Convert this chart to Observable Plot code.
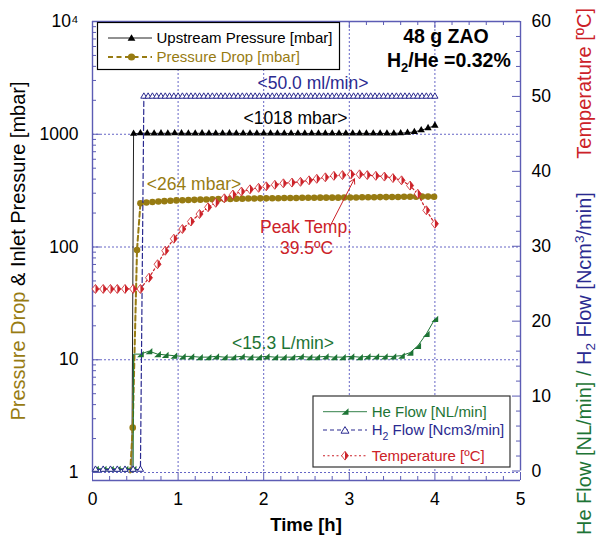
<!DOCTYPE html>
<html><head><meta charset="utf-8">
<script src="https://cdn.jsdelivr.net/npm/d3@7"></script>
<script src="https://cdn.jsdelivr.net/npm/@observablehq/plot@0.6"></script>
<style>
html,body{margin:0;padding:0;background:#fff;}
#chart{position:relative;width:601px;height:537px;overflow:hidden;font-family:"Liberation Sans",Arial,sans-serif;}
#chart svg{position:absolute;left:0;top:0;}
</style></head>
<body><div id="chart"></div>
<script>
// ---------------- data ----------------
// Upstream pressure [mbar] (left, log axis)
const upTime = [0.48,0.56,0.64,0.72,0.80,0.88,0.96,1.04,1.12,1.20,1.28,1.36,1.44,1.52,1.60,1.68,1.76,1.84,1.92,2.00,2.08,2.16,2.24,2.32,2.40,2.48,2.56,2.64,2.72,2.80,2.88,2.96,3.04,3.12,3.20,3.28,3.36,3.44,3.52,3.60,3.68,3.76,3.84,3.92,4.00];
const upValue = [1010,1022,1020,1018,1020,1019,1021,1020,1018,1019,
                 1020,1018,1017,1019,1020,1018,1018,1019,1017,1018,
                 1019,1018,1017,1016,1018,1017,1016,1018,1017,1016,
                 1017,1018,1016,1017,1018,1016,1017,1018,1019,1022,
                 1032,1050,1085,1135,1195];
const upStart = [0.46, 1];

// Pressure drop [mbar] (left, log axis)
const pdTime = [0.47,0.52,0.56,0.63,0.70,0.77,0.84,0.91,0.98,1.05,1.12,1.19,1.26,1.33,1.40,1.47,1.54,1.61,1.68,1.75,1.82,1.89,1.96,2.03,2.10,2.17,2.24,2.31,2.38,2.45,2.52,2.59,2.66,2.73,2.80,2.87,2.94,3.01,3.08,3.15,3.22,3.29,3.36,3.43,3.50,3.57,3.64,3.71,3.78,3.85,3.92,3.99];
const pdValue = [2.5,94,
                 244,248,251,253,255,257,259,260,261,262,
                 263,264,265,266,266,267,268,268,269,269,
                 270,270,271,271,272,272,272,273,273,273,
                 274,274,274,274,275,275,275,276,276,276,
                 277,277,278,278,279,279,279,280,280,279];
const pdStart = [0.44, 1];

// He flow [NL/min] and temperature [ºC] (right axis), same sampling
const flowTime = [0.035,0.125,0.21,0.29,0.38,0.475,
                  0.56,0.66,0.76,0.85,0.95,1.05,
                  1.15,1.25,1.35,1.44,1.54,1.64,1.74,1.84,1.94,2.03,2.13,2.23,2.33,2.43,2.53,2.62,2.72,2.82,2.92,3.02,3.12,3.21,3.31,3.41,
                  3.51,3.61,3.71,3.80,3.90,4.00];
const heValue = [0.3,0.3,0.3,0.3,0.3,0.3,
                 15.6,16.0,15.6,15.5,15.4,15.3,
                 15.3,15.2,15.2,15.3,15.2,15.2,15.3,15.2,15.2,15.3,15.2,15.2,15.2,15.3,15.2,15.2,15.3,15.2,15.2,15.3,15.2,15.3,15.3,15.3,
                 15.3,15.4,15.8,16.7,18.3,20.3];
const heJump = [0.48, 15.6];
const tempValue = [24.3,24.3,24.3,24.3,24.3,24.3,
                   24.3,25.8,27.6,29.4,31.0,32.3,
                   33.3,34.3,35.2,35.8,36.4,36.9,37.3,37.6,37.8,38.0,38.2,38.4,38.5,38.6,38.8,39.0,39.2,39.4,39.5,39.6,39.6,39.5,39.4,39.3,
                   39.1,38.8,38.1,37.0,34.8,33.0];

// H2 flow [Ncm3/min] (right axis)
const h2Time = [0.035,0.125,0.21,0.29,0.38,0.475,0.56,
                0.60,0.65,0.70,0.75,0.80,0.85,0.90,0.95,1.00,1.05,1.10,1.15,1.20,1.25,1.30,1.35,1.40,1.45,1.50,1.55,1.60,1.65,1.70,1.75,1.80,1.85,1.90,1.95,2.00,2.05,2.10,2.15,2.20,2.25,2.30,2.35,2.40,2.45,2.50,2.55,2.60,2.65,2.70,2.75,2.80,2.85,2.90,2.95,3.00,3.05,3.10,3.15,3.20,3.25,3.30,3.35,3.40,3.45,3.50,3.55,3.60,3.65,3.70,3.75,3.80,3.85,3.90,3.95,4.00];
const h2Value = [0.2,0.2,0.2,0.2,0.2,0.2,0.2,
                 50,50,50,50,50,50,50,50,50,50,
                 50,50,50,50,50,50,50,50,50,50,
                 50,50,50,50,50,50,50,50,50,50,
                 50,50,50,50,50,50,50,50,50,50,
                 50,50,50,50,50,50,50,50,50,50,
                 50,50,50,50,50,50,50,50,50,50,
                 50,50,50,50,50,50,50,50,50];

// Axis ticks
const timeTicks = [0,1,2,3,4,5];
const timeGrid = [1,2,3,4];
const pressureTicks = [1,10,100,1000,10000];
const pressureGrid = [1,10,100,1000];
const rightTicks = [0,10,20,30,40,50,60];

// Peak temperature arrow (tail -> head), in data units of the right axis
const peakArrow = [{t1:2.79, v1:33.0, t2:3.06, v2:39.0}];

// ---------------- styling ----------------
const FONT = '"Liberation Sans", Arial, sans-serif';
const W = 601, H = 537, ML = 92, MR = 81, MT = 21;
const FW = W - ML - MR;            // frame width
const FH1 = H - MT - 65;           // frame height, left plot
const axisColor = "#5c5cb4", gridColor = "#6666c6";
const olive = "#977b12", navy = "#2a2a90", green = "#1d7435", red = "#cc2128";

const toRows = (ts, vs) => ts.map((t, i) => ({t, v: vs[i]}));
const upData = toRows(upTime, upValue);
const upLine = [{t: upStart[0], v: upStart[1]}, ...upData];
const pdData = toRows(pdTime, pdValue);
const pdLine = [{t: pdStart[0], v: pdStart[1]}, ...pdData];
const heData = toRows(flowTime, heValue);
const heLine = [...heData.slice(0, 6), {t: heJump[0], v: heJump[1]}, ...heData.slice(6)];
const tempData = toRows(flowTime, tempValue);
const h2Data = toRows(h2Time, h2Value);

const minorLog = [];
for (const d of [1,10,100,1000]) for (let k = 2; k <= 9; k++) minorLog.push(d * k);
const minorTime = [];
for (let i = 0; i < 25; i++) if (i % 5) minorTime.push(i / 5);
const minorRight = [];
for (let v = 2; v < 60; v += 2) if (v % 10) minorRight.push(v);

const heSymbol = {draw(ctx){ ctx.moveTo(3.3,-3.1); ctx.lineTo(3.3,3.0); ctx.lineTo(-3.4,3.0); ctx.closePath(); }};
const diamondOutline = {draw(ctx){ ctx.moveTo(0,-4.5); ctx.lineTo(3.5,0); ctx.lineTo(0,4.5); ctx.lineTo(-3.5,0); ctx.closePath(); }};
const diamondRight = {draw(ctx){ ctx.moveTo(0,-4.5); ctx.lineTo(3.5,0); ctx.lineTo(0,4.5); ctx.closePath(); }};

const baseStyle = {background: "transparent", fontFamily: FONT, fontSize: "17.5px", color: "#000", overflow: "visible"};
const gridStyle = {stroke: gridColor, strokeWidth: 1, strokeOpacity: 1, strokeDasharray: "2,2"};

// ---------------- left (log) plot ----------------
const p1 = Plot.plot({
  width: W, height: H, marginLeft: ML, marginRight: MR, marginTop: MT, marginBottom: 65,
  style: baseStyle,
  x: {domain: [0, 5]},
  y: {type: "log", domain: [1, 1e4]},
  marks: [
    Plot.ruleY(pressureGrid, gridStyle),
    Plot.ruleX(timeGrid, gridStyle),
    Plot.ruleX([0], {stroke: axisColor, strokeWidth: 1.4}),
    Plot.ruleY([1e4], {stroke: axisColor, strokeWidth: 1.4}),
    Plot.ruleY([1], {stroke: axisColor, strokeWidth: 1.4, dy: 8}),
    Plot.ruleY(pressureTicks, {stroke: axisColor, insetRight: FW - 8}),
    Plot.ruleY(minorLog, {stroke: axisColor, insetRight: FW - 4}),
    Plot.ruleX(timeTicks, {stroke: axisColor, insetTop: FH1 - 8, dy: 8}),
    Plot.ruleX(minorTime, {stroke: axisColor, insetTop: FH1 - 4, dy: 8}),
    Plot.ruleX(timeTicks, {stroke: axisColor, insetBottom: FH1 - 7}),
    Plot.ruleX(minorTime, {stroke: axisColor, insetBottom: FH1 - 4}),
    Plot.axisY({anchor: "left", ticks: pressureTicks, tickFormat: d => d === 1e4 ? "10\u2074" : String(d),
                tickSize: 0, tickPadding: 14, label: null, fontSize: 17.5, fill: "#000"}),
    Plot.axisX({anchor: "bottom", ticks: timeTicks, tickFormat: d => String(d),
                tickSize: 0, tickPadding: 20, label: null, fontSize: 17.5, fill: "#000"}),
    Plot.line(upLine, {x: "t", y: "v", stroke: "#222", strokeWidth: 1}),
    Plot.dot(upData, {x: "t", y: "v", symbol: "triangle", r: 2.7, fill: "#000", stroke: null}),
    Plot.line(pdLine, {x: "t", y: "v", stroke: olive, strokeWidth: 2, strokeDasharray: "5,3"}),
    Plot.dot(pdData, {x: "t", y: "v", r: 3.3, fill: olive, stroke: null})
  ]
});

// ---------------- right (linear) plot ----------------
const p2 = Plot.plot({
  width: W, height: H, marginLeft: ML, marginRight: MR, marginTop: MT, marginBottom: 66.5,
  style: baseStyle,
  x: {domain: [0, 5], axis: null},
  y: {domain: [0, 60]},
  marks: [
    Plot.ruleX([5], {stroke: axisColor, strokeWidth: 1.4}),
    Plot.ruleY(rightTicks, {stroke: axisColor, insetLeft: FW - 8}),
    Plot.ruleY(minorRight, {stroke: axisColor, insetLeft: FW - 4}),
    Plot.axisY({anchor: "right", ticks: rightTicks, tickSize: 0, tickPadding: 11, label: null, fontSize: 17.5, fill: "#000"}),
    Plot.line(heLine, {x: "t", y: "v", stroke: green, strokeWidth: 1}),
    Plot.dot(heData, {x: "t", y: "v", symbol: heSymbol, fill: green, stroke: null}),
    Plot.line(h2Data, {x: "t", y: "v", stroke: navy, strokeWidth: 1.2, strokeDasharray: "5,3"}),
    Plot.dot(h2Data, {x: "t", y: "v", symbol: "triangle", r: 2.3, fill: "#fff", stroke: navy, strokeWidth: 1}),
    Plot.line(tempData, {x: "t", y: "v", stroke: red, strokeWidth: 1.2, strokeDasharray: "2,2.5"}),
    Plot.dot(tempData, {x: "t", y: "v", symbol: diamondOutline, fill: "#fff", stroke: red, strokeWidth: 0.8}),
    Plot.dot(tempData, {x: "t", y: "v", symbol: diamondRight, fill: red, stroke: null}),
    Plot.arrow(peakArrow, {x1: "t1", y1: "v1", x2: "t2", y2: "v2", stroke: red, strokeWidth: 1, headLength: 8})
  ]
});

const chart = document.getElementById("chart");
chart.appendChild(p1);
chart.appendChild(p2);

// ---------------- overlay: titles, annotations, legends ----------------
const overlay = `
<svg width="601" height="537" xmlns="http://www.w3.org/2000/svg" font-family='${FONT}' style="white-space:pre">
  <text transform="translate(25,251) rotate(-90)" text-anchor="middle" font-size="20"><tspan fill="${olive}">Pressure Drop</tspan><tspan fill="#000"> &amp; Inlet Pressure  [mbar]</tspan></text>
  <text transform="translate(591,535) rotate(-90)" font-size="20"><tspan fill="${green}">He Flow [NL/min] / </tspan><tspan fill="${navy}">H</tspan><tspan fill="${navy}" font-size="13.5" dy="4">2</tspan><tspan fill="${navy}" dy="-4"> Flow [Ncm</tspan><tspan fill="${navy}" font-size="13.5" dy="-7.5">3</tspan><tspan fill="${navy}" dy="7.5">/min]</tspan></text>
  <text transform="translate(591,8) rotate(-90)" text-anchor="end" font-size="20" fill="${red}">Temperature [ºC]</text>
  <text x="306" y="531" text-anchor="middle" font-size="18.5" font-weight="bold">Time [h]</text>

  <text x="446" y="43" text-anchor="middle" font-size="19.5" font-weight="bold">48 g ZAO</text>
  <text x="387" y="66.5" font-size="19.5" font-weight="bold">H<tspan font-size="13" dy="5">2</tspan><tspan dy="-5">/He =0.32%</tspan></text>

  <text x="313" y="89" text-anchor="middle" font-size="17.5" fill="${navy}">&lt;50.0 ml/min&gt;</text>
  <text x="295.5" y="124" text-anchor="middle" font-size="17.5" fill="#000">&lt;1018 mbar&gt;</text>
  <text x="194" y="189.5" text-anchor="middle" font-size="17.5" fill="${olive}">&lt;264 mbar&gt;</text>
  <text x="306" y="232.5" text-anchor="middle" font-size="17.5" fill="${red}">Peak Temp.</text>
  <text x="306.5" y="254" text-anchor="middle" font-size="17.5" fill="${red}">39.5ºC</text>
  <text x="283" y="349" text-anchor="middle" font-size="17.5" fill="${green}">&lt;15.3 L/min&gt;</text>

  <rect x="97.5" y="22.5" width="242" height="47" fill="#fff" stroke="#000" stroke-width="1.2"/>
  <line x1="108" x2="152" y1="38" y2="38" stroke="#222" stroke-width="1"/>
  <path d="M131.5,34.2 L135.4,40.8 L127.6,40.8 Z" fill="#000"/>
  <text x="156.5" y="43.3" font-size="15" fill="#000">Upstream Pressure [mbar]</text>
  <line x1="108" x2="152" y1="57" y2="57" stroke="${olive}" stroke-width="2.2" stroke-dasharray="5,3.5"/>
  <circle cx="131.5" cy="57" r="3.6" fill="${olive}"/>
  <text x="156.5" y="62.3" font-size="15" fill="${olive}">Pressure Drop [mbar]</text>

  <rect x="313" y="396" width="197" height="71" fill="#fff" stroke="#333" stroke-width="1.2"/>
  <line x1="323" x2="367" y1="411.7" y2="411.7" stroke="${green}" stroke-width="0.9"/>
  <path d="M348.5,408.3 L348.5,414.8 L341.6,414.8 Z" fill="${green}"/>
  <text x="371.7" y="417" font-size="15" fill="${green}">He Flow [NL/min]</text>
  <line x1="323" x2="367" y1="430" y2="430" stroke="${navy}" stroke-width="1.1" stroke-dasharray="4,3"/>
  <path d="M345,426.6 L349,433.2 L341,433.2 Z" fill="#fff" stroke="${navy}" stroke-width="1"/>
  <text x="371.7" y="435.3" font-size="15" fill="${navy}">H<tspan font-size="10.5" dy="4.5">2</tspan><tspan dy="-4.5"> Flow [Ncm3/min]</tspan></text>
  <line x1="323" x2="367" y1="455.7" y2="455.7" stroke="${red}" stroke-width="1.1" stroke-dasharray="2,2.5"/>
  <path d="M345,451.3 L348.4,455.7 L345,460.1 L341.6,455.7 Z" fill="#fff" stroke="${red}" stroke-width="0.8"/>
  <path d="M345,451.3 L348.4,455.7 L345,460.1 Z" fill="${red}"/>
  <text x="371.7" y="461" font-size="15" fill="${red}">Temperature [ºC]</text>
</svg>`;
const holder = document.createElement("div");
holder.innerHTML = overlay.trim();
chart.appendChild(holder.firstChild);
</script>
</body></html>
